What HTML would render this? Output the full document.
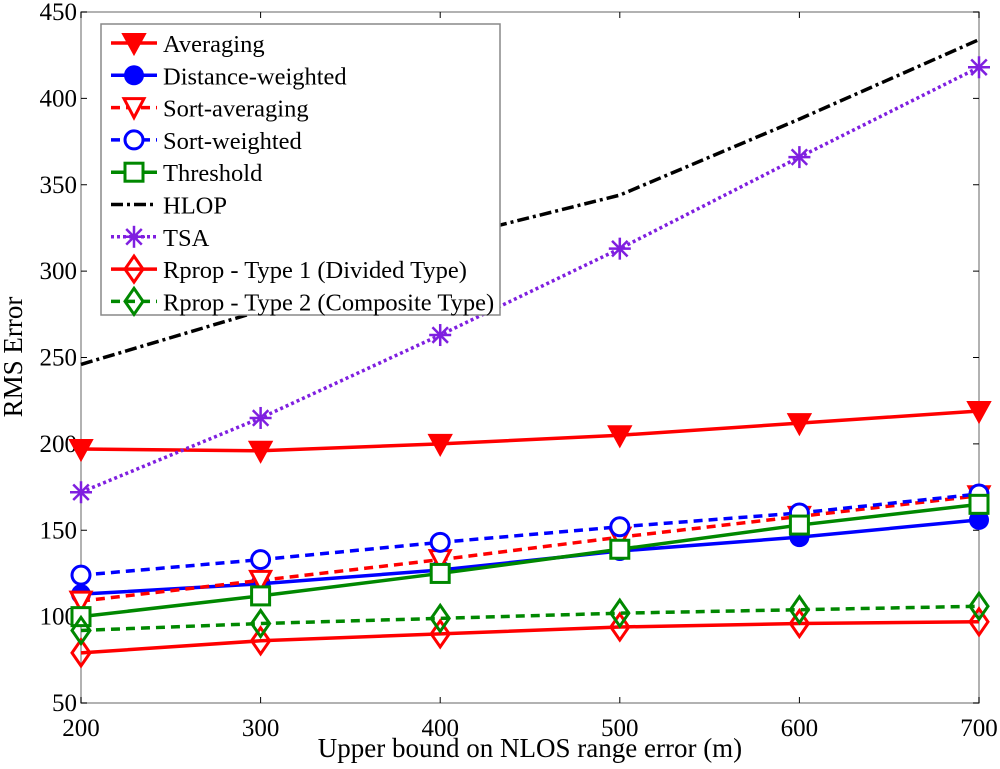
<!DOCTYPE html>
<html><head><meta charset="utf-8"><style>
body{margin:0;background:#fff;}
svg{display:block;font-family:"Liberation Serif",serif;}
</style></head><body>
<svg id="chart" width="1000" height="769"></svg>
<script>
const xCats=[200,300,400,500,600,700];
const yTicks=[50,100,150,200,250,300,350,400,450];
const averaging=[197,196,200,205,212,219];
const distWeighted=[113,119,127,138,146,156];
const sortAveraging=[109,121,133,146,158,170];
const sortWeighted=[124,133,143,152,160,171];
const threshold=[100,112,125,139,153,165];
const hlop=[246,277,318,344,388,434];
const tsa=[172,215,263,313,366,418];
const rprop1=[79,86,90,94,96,97];
const rprop2=[92,96,99,102,104,106];

const L=81,R=979,T=12,B=703;
const xs=v=>L+(v-200)/500*(R-L);
const ys=v=>B-(v-50)/400*(B-T);
const NS='http://www.w3.org/2000/svg';
const svg=document.getElementById('chart');
function el(t,a,p){const e=document.createElementNS(NS,t);for(const k in a)e.setAttribute(k,a[k]);(p||svg).appendChild(e);return e;}

const frame=el('rect',{x:L,y:T,width:R-L,height:B-T,fill:'none',stroke:'#999','stroke-width':1.5});


xCats.forEach(v=>{
  el('line',{x1:xs(v),x2:xs(v),y1:B,y2:B-6,stroke:'#000'});
  el('line',{x1:xs(v),x2:xs(v),y1:T,y2:T+6,stroke:'#000'});
  const t=el('text',{x:xs(v),y:B+33,'text-anchor':'middle','font-size':25});
  t.textContent=v;
  
  
});
yTicks.forEach(v=>{
  el('line',{x1:L,x2:L+6,y1:ys(v),y2:ys(v),stroke:'#000'});
  el('line',{x1:R,x2:R-6,y1:ys(v),y2:ys(v),stroke:'#000'});
  const t=el('text',{x:L-4,y:ys(v)+8,'text-anchor':'end','font-size':25});
  t.textContent=v;
  
  
});
const xl=el('text',{x:530,y:757,'text-anchor':'middle','font-size':27});
xl.textContent='Upper bound on NLOS range error (m)';


const yl=el('text',{x:0,y:0,'text-anchor':'middle','font-size':27,transform:'translate(22,357) rotate(-90)'});
yl.textContent='RMS Error';



function marker(g,type,x,y,c){
  if(type==='tri')el('path',{d:`M${x-11},${y-9}L${x+11},${y-9}L${x},${y+11}Z`,fill:c,stroke:c,'stroke-width':2},g);
  else if(type==='otri')el('path',{d:`M${x-10},${y-9}L${x+10},${y-9}L${x},${y+10}Z`,fill:'#fff',stroke:c,'stroke-width':3},g);
  else if(type==='dot')el('circle',{cx:x,cy:y,r:10,fill:c},g);
  else if(type==='circ')el('circle',{cx:x,cy:y,r:9,fill:'#fff',stroke:c,'stroke-width':3},g);
  else if(type==='sq')el('rect',{x:x-9,y:y-9,width:18,height:18,fill:'#fff',stroke:c,'stroke-width':3},g);
  else if(type==='dia')el('path',{d:`M${x},${y-13}L${x+9},${y}L${x},${y+13}L${x-9},${y}Z`,fill:'none',stroke:c,'stroke-width':3},g);
  else if(type==='star'){for(let a=0;a<4;a++){const an=a*Math.PI/4;el('line',{x1:x-11*Math.cos(an),y1:y-11*Math.sin(an),x2:x+11*Math.cos(an),y2:y+11*Math.sin(an),stroke:c,'stroke-width':2.5},g);}}
}
const series=[
 ['averaging',averaging,'#f00','','tri','Averaging'],
 ['distance-weighted',distWeighted,'#00f','','dot','Distance-weighted'],
 ['sort-averaging',sortAveraging,'#f00','9,6','otri','Sort-averaging'],
 ['sort-weighted',sortWeighted,'#00f','9,6','circ','Sort-weighted'],
 ['threshold',threshold,'#080','','sq','Threshold'],
 ['hlop',hlop,'#000','12,4,3,4','','HLOP'],
 ['tsa',tsa,'#7f1fe0','3,3','star','TSA'],
 ['rprop-type1',rprop1,'#f00','','dia','Rprop - Type 1 (Divided Type)'],
 ['rprop-type2',rprop2,'#080','9,6','dia','Rprop - Type 2 (Composite Type)']
];
series.forEach(s=>{
  const g=el('g',{});
  
  
  const pts=s[1].map((v,i)=>xs(xCats[i])+','+ys(v)).join(' ');
  el('polyline',{points:pts,fill:'none',stroke:s[2],'stroke-width':3.5,'stroke-dasharray':s[3]},g);
  if(s[4])s[1].forEach((v,i)=>marker(g,s[4],xs(xCats[i]),ys(v),s[2]));
});
const lg=el('g',{});


el('rect',{x:101,y:24,width:399,height:291,fill:'#fff',stroke:'#888','stroke-width':1.5},lg);
series.forEach((s,i)=>{
  const y=43+i*32.3;
  const e=el('g',{},lg);
  
  
  el('line',{x1:111,x2:157,y1:y,y2:y,stroke:s[2],'stroke-width':3.5,'stroke-dasharray':s[3]},e);
  if(s[4])marker(e,s[4],134,y,s[2]);
  const t=el('text',{x:163,y:y+9,'font-size':24.5},e);
  t.textContent=s[5];
});
</script>
</body></html>
